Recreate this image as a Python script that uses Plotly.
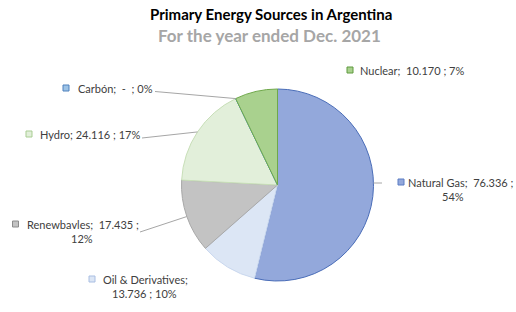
import math
import plotly.graph_objects as go

# ---------------- data ----------------
categories = ["Natural Gas", "Oil & Derivatives", "Renewbavles", "Hydro", "Carbón", "Nuclear"]
values = [76.336, 13.736, 17.435, 24.116, 0.0, 10.170]
value_text = ["76.336", "13.736", "17.435", "24.116", "-", "10.170"]
title_text = "Primary Energy Sources in Argentina"
subtitle_text = "For the year ended Dec. 2021"

# ---------------- styles ----------------
fill_colors = ["#93A8DB", "#DCE6F5", "#C3C3C3", "#E2EFDA", "#9DC3E6", "#A9D18E"]
line_colors = ["#4A6DB8", "#C9D7EE", "#A8A8A8", "#C8DFB8", "#5B9BD5", "#6FA84A"]
marker_borders = ["#5B7CC4", "#A9BEE2", "#8C8C8C", "#A9CD93", "#4F81BD", "#5E9A3E"]

W, H = 516, 312
CX, CY, R = 277.5, 185.0, 96.0
FONT = "Lato"
TXT = "#404040"

# label layout (pixels)
label_layout = {
    "Natural Gas":       dict(mx=398, y=182, tx=406, l2=(453, 196), lead=(382, 183), attach="horiz"),
    "Oil & Derivatives": dict(mx=89, y=279, tx=101, l2=(144, 293), lead=None, attach=None),
    "Renewbavles":       dict(mx=12.5, y=224, tx=25, l2=(82, 238), lead=(140, 232), attach="mid"),
    "Hydro":             dict(mx=26, y=134, tx=38, l2=None, lead=(142, 138), attach="mid"),
    "Carbón":            dict(mx=63, y=88, tx=76, l2=None, lead=(155, 91.5), attach="mid"),
    "Nuclear":           dict(mx=347, y=70, tx=358, l2=None, lead=None, attach=None),
}


def px(x):
    return x / W


def py(y):
    return 1 - y / H


total = sum(values)
pcts = [round(v / total * 100) for v in values]

fig = go.Figure()
fig.add_trace(go.Pie(
    labels=categories,
    values=values,
    sort=False,
    direction="clockwise",
    rotation=0,
    textinfo="none",
    hoverinfo="label+value+percent",
    marker=dict(colors=fill_colors, line=dict(color=line_colors, width=1)),
    domain=dict(x=[px(CX - R), px(CX + R)], y=[py(CY + R), py(CY - R)]),
    showlegend=False,
))

annotations = []
shapes = []

# cumulative angles (clockwise from 12 o'clock)
cum = 0.0
mid_angles = []
for v in values:
    a0 = cum / total * 360
    cum += v
    a1 = cum / total * 360
    mid_angles.append((a0 + a1) / 2)

for i, cat in enumerate(categories):
    L = label_layout[cat]
    if cat in ("Natural Gas", "Renewbavles"):
        line1 = f"{cat};  {value_text[i]} ;"
        line2 = f"{pcts[i]}%"
    elif cat == "Oil & Derivatives":
        line1 = f"{cat};"
        line2 = f"{value_text[i]} ; {pcts[i]}%"
    elif cat == "Carbón":
        line1 = f"{cat};  {value_text[i]}  ; {pcts[i]}%"
        line2 = None
    elif cat == "Nuclear":
        line1 = f"{cat};  {value_text[i]} ; {pcts[i]}%"
        line2 = None
    else:
        line1 = f"{cat}; {value_text[i]} ; {pcts[i]}%"
        line2 = None
    annotations.append(dict(x=px(L["tx"]), y=py(L["y"]), xref="paper", yref="paper",
                            text=line1, showarrow=False, xanchor="left", yanchor="middle",
                            font=dict(family=FONT, size=11, color=TXT)))
    if line2 is not None:
        cx2, cy2 = L["l2"]
        annotations.append(dict(x=px(cx2), y=py(cy2), xref="paper", yref="paper",
                                text=line2, showarrow=False,
                                xanchor="center", yanchor="middle",
                                font=dict(family=FONT, size=11, color=TXT)))
    # marker square
    s = 6
    shapes.append(dict(type="rect", xref="paper", yref="paper",
                       x0=px(L["mx"]), x1=px(L["mx"] + s),
                       y0=py(L["y"] - s / 2), y1=py(L["y"] + s / 2),
                       fillcolor=fill_colors[i], line=dict(color=marker_borders[i], width=1)))
    # leader line
    if L["lead"] is not None:
        sx, sy = L["lead"]
        if L["attach"] == "mid":
            th = math.radians(mid_angles[i])
            ex, ey = CX + R * math.sin(th), CY - R * math.cos(th)
        else:
            ey = sy
            ex = CX + math.sqrt(max(R * R - (sy - CY) ** 2, 0))
        shapes.append(dict(type="line", xref="paper", yref="paper",
                           x0=px(sx), y0=py(sy), x1=px(ex), y1=py(ey),
                           line=dict(color="#A6A6A6", width=1)))

annotations.append(dict(x=px(271), y=py(14), xref="paper", yref="paper", text=f"<b>{title_text}</b>",
                        showarrow=False, xanchor="center", yanchor="middle",
                        font=dict(family=FONT, size=15, color="#000000")))
annotations.append(dict(x=px(269), y=py(35), xref="paper", yref="paper", text=f"<b>{subtitle_text}</b>",
                        showarrow=False, xanchor="center", yanchor="middle",
                        font=dict(family=FONT, size=17, color="#A6A6A6")))

fig.update_layout(
    width=W, height=H,
    margin=dict(l=0, r=0, t=0, b=0),
    paper_bgcolor="white",
    plot_bgcolor="white",
    annotations=annotations,
    shapes=shapes,
)

fig.write_html("out.html")
